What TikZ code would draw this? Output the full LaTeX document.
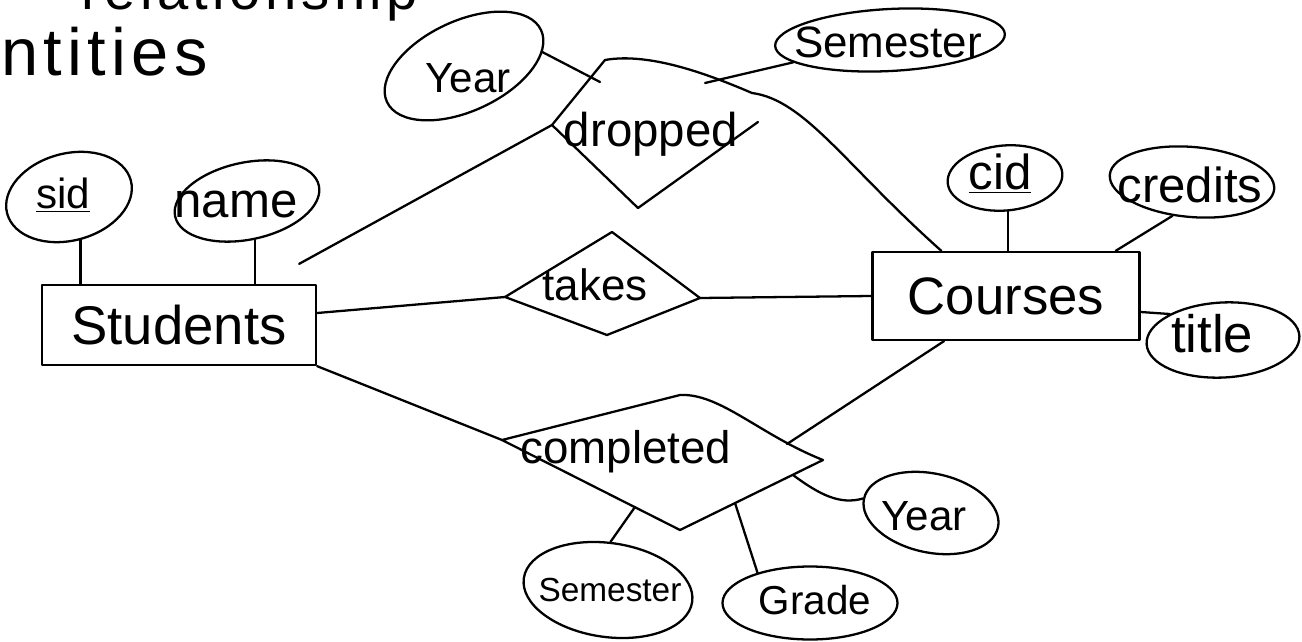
\documentclass[tikz,border=0pt]{standalone}
\usepackage{fontspec}
\setmainfont{Liberation Sans}
\usetikzlibrary{shapes.geometric,calc}
\newcommand\fsz[1]{\fontsize{#1}{#1}\selectfont}
\begin{document}
\begin{tikzpicture}[x=0.02cm,y=-0.02cm, line width=1.3pt, line cap=round, line join=round,
  attr/.style={draw, ellipse, inner sep=0pt},
  ent/.style={draw, rectangle, inner sep=0pt},
  lbl/.style={inner sep=0pt}]
\useasboundingbox (0,0) rectangle (1302,642);

% header (partly cut off)
\node[lbl, anchor=base west] (hdr1) at (80,10) {\fsz{32pt}\addfontfeatures{LetterSpace=8}relationship};
\node[lbl, anchor=base west] (hdr2) at (0,76) {\fsz{38pt}\addfontfeatures{LetterSpace=8}ntities};

% entities
\node[ent, minimum width=274*0.02cm, minimum height=80*0.02cm] (students) at (179,325) {\fsz{31pt}Students};
\node[ent, minimum width=267*0.02cm, minimum height=88*0.02cm] (courses) at (1006,296) {\fsz{30pt}Courses};

% attributes
\node[attr, minimum width=128*0.02cm, minimum height=87*0.02cm, rotate=15] (sid) at (69,197) {};
\node[lbl] (sidT) at (63,195) {\fsz{24pt}\underline{sid}};
\node[attr, minimum width=147*0.02cm, minimum height=77*0.02cm, rotate=12] (name) at (247,201) {};
\node[lbl] (nameT) at (236,205) {\fsz{28pt}name};
\node[attr, minimum width=115*0.02cm, minimum height=65*0.02cm, rotate=5] (cid) at (1005,178) {};
\node[lbl] (cidT) at (1000,174) {\fsz{28pt}\underline{cid}};
\node[attr, minimum width=165*0.02cm, minimum height=70*0.02cm, rotate=-5] (credits) at (1192,182) {};
\node[lbl] (creditsT) at (1190,185) {\fsz{28pt}credits};
\node[attr, minimum width=153*0.02cm, minimum height=75*0.02cm, rotate=3] (title) at (1223,340) {};
\node[lbl] (titleT) at (1212,334) {\fsz{30pt}title};
\node[attr, minimum width=170*0.02cm, minimum height=90*0.02cm, rotate=25] (yearT) at (464,66) {};
\node[lbl] (yearTT) at (468,78) {\fsz{24pt}Year};
\node[attr, minimum width=230*0.02cm, minimum height=62*0.02cm, rotate=3] (semT) at (890,40) {};
\node[lbl] (semTT) at (888,42) {\fsz{25pt}Semester};
\node[attr, minimum width=137*0.02cm, minimum height=79*0.02cm, rotate=-12] (yearB) at (931,513) {};
\node[lbl] (yearBT) at (924,516) {\fsz{24pt}Year};
\node[attr, minimum width=170*0.02cm, minimum height=94*0.02cm, rotate=-8] (semB) at (608,590) {};
\node[lbl] (semBT) at (610,590) {\fsz{19pt}Semester};
\node[attr, minimum width=175*0.02cm, minimum height=73*0.02cm] (grade) at (810,603) {};
\node[lbl] (gradeT) at (815,600) {\fsz{23pt}Grade};

% relationship: dropped
\coordinate (dL) at (552,125);
\coordinate (dT) at (605,60);
\coordinate (dR) at (752,93);
\coordinate (dR2) at (758,122);
\coordinate (dB) at (638,208);
\draw (dR2) -- (dB) -- (dL) -- (dT) .. controls (650,52) and (710,75) .. (dR);
\node[lbl] (droppedT) at (651,134) {\fsz{27pt}dropped};

% relationship: takes
\coordinate (tL) at (505,297);
\coordinate (tT) at (612,232);
\coordinate (tR) at (700,298);
\coordinate (tB) at (607,335);
\draw (tL) -- (tT) -- (tR) -- (tB) -- cycle;
\node[lbl] (takesT) at (595,285) {\fsz{25pt}takes};

% relationship: completed
\coordinate (cL) at (502,440);
\coordinate (cT) at (680,395);
\coordinate (cR) at (823,460);
\coordinate (cB) at (680,530);
\draw (cL) -- (cT) .. controls (720,393) and (760,435) .. (cR) -- (cB) -- cycle;
\node[lbl] (completedT) at (626,452) {\fsz{26pt}completed};

% connector end points on relationship shapes
\coordinate (dY) at (600,82);
\coordinate (dS) at (705,83);
\coordinate (cCo) at (787,444);
\coordinate (cY) at (793,475);
\coordinate (cS) at (635,507);
\coordinate (cG) at (735,503);

% connectors
\draw (sid.south) -- (sid.south |- students.north);
\draw (name.south) -- (name.south |- students.north);
\draw (cid.south) -- (cid.south |- courses.north);
\draw (credits.-115) -- ($(courses.north east)+(-25,0)$);
\draw ($(courses.east)+(0,16)$) -- (title.151);

\draw ($(students.north east)+(-18,-20)$) -- (dL);
\draw (dR) .. controls (805,100) and (845,165) .. ($(courses.north west)+(70,0)$);
\draw (yearT.-15) -- (dY);
\draw (dS) -- (semT.190);

\draw ($(students.east)+(0,-12)$) -- (tL);
\draw (tR) -- (courses.west);

\draw (students.south east) -- (cL);
\draw ($(courses.south)+(-62,0)$) -- (cCo);
\draw (cY) .. controls (820,495) and (840,505) .. (yearB.west);
\draw (cS) -- (semB.95);
\draw (cG) -- (grade.150);
\end{tikzpicture}
\end{document}
